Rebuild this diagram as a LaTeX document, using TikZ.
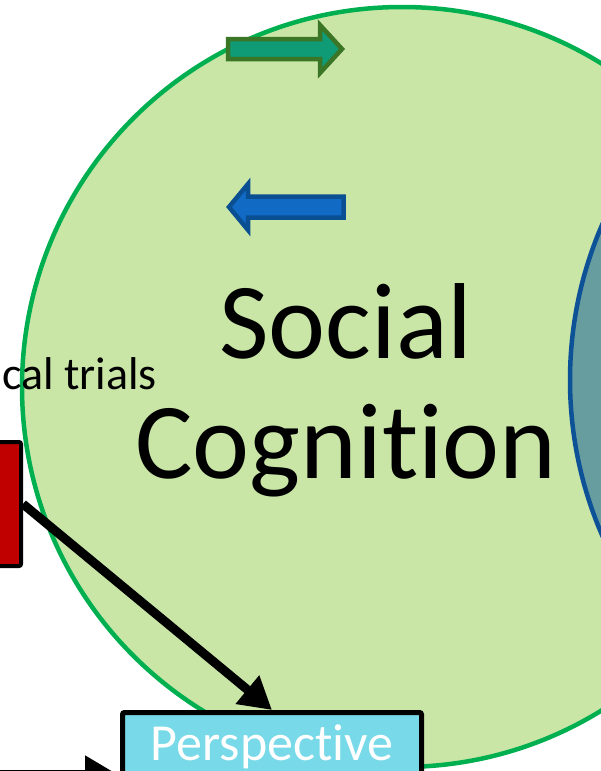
\documentclass[tikz,border=0pt]{standalone}
\usepackage{fontspec}
\setmainfont{Carlito}[Ligatures=NoCommon]
\usetikzlibrary{arrows.meta}

\definecolor{socfill}{HTML}{C9E6A7}
\definecolor{socline}{HTML}{00B050}
\definecolor{neufill}{HTML}{679D9F}
\definecolor{neuline}{HTML}{0D5197}
\definecolor{grnfill}{HTML}{0F9B76}
\definecolor{grnline}{HTML}{3B7526}
\definecolor{bluefill}{HTML}{116AC4}
\definecolor{blueline}{HTML}{0B4F93}
\definecolor{redfill}{HTML}{C00000}
\definecolor{perfill}{HTML}{78D9E8}

\begin{document}
\begin{tikzpicture}[x=1pt,y=-1pt,
    big arrow/.style={line width=9pt,-{Triangle[length=32pt,width=35pt]}},
    box node/.style={rectangle,draw=black,rounded corners=2pt},
    block arrow/.style={line width=4.5pt,line join=miter}]

  \useasboundingbox (0,0) rectangle (600,771);

  % Circles
  \node[circle,draw=socline,fill=socfill,line width=4.5pt,minimum size=760pt] (soc) at (402,387) {};
  \node[circle,draw=neuline,fill=neufill,line width=4.5pt,minimum size=780pt] (neu) at (960,380) {};

  % Block arrows
  \draw[block arrow,draw=grnline,fill=grnfill]
    (228,39) -- (320,39) -- (320,25) -- (342,49) -- (320,73) -- (320,59) -- (228,59) -- cycle;
  \draw[block arrow,draw=blueline,fill=bluefill]
    (343.5,196.5) -- (248,196.5) -- (248,184) -- (229,207) -- (248,230) -- (248,217.5) -- (343.5,217.5) -- cycle;

  % Nodes
  \node[font=\fontsize{108}{120}\selectfont,align=center,anchor=base] (title) at (346,478) {Social\\Cognition};
  \node[font=\fontsize{46}{52}\selectfont,anchor=base east,inner sep=0pt] (trials) at (157,389) {cal trials};
  \node[box node,fill=redfill,line width=4pt,minimum width=140pt,minimum height=124pt,anchor=east] (redbox) at (23,504) {};
  \node[box node,fill=perfill,line width=5pt,text=white,font=\fontsize{52}{60}\selectfont,
        minimum width=299pt,text height=36pt,text depth=14pt,inner ysep=11.5pt,anchor=base] (persp) at (272,760) {Perspective};
  \coordinate (inL) at (-30,774);

  % Paths
  \draw[big arrow] (redbox.east) -- (persp.north);
  \draw[big arrow,shorten >=3pt] (inL) -- (inL -| persp.west);

\end{tikzpicture}
\end{document}
